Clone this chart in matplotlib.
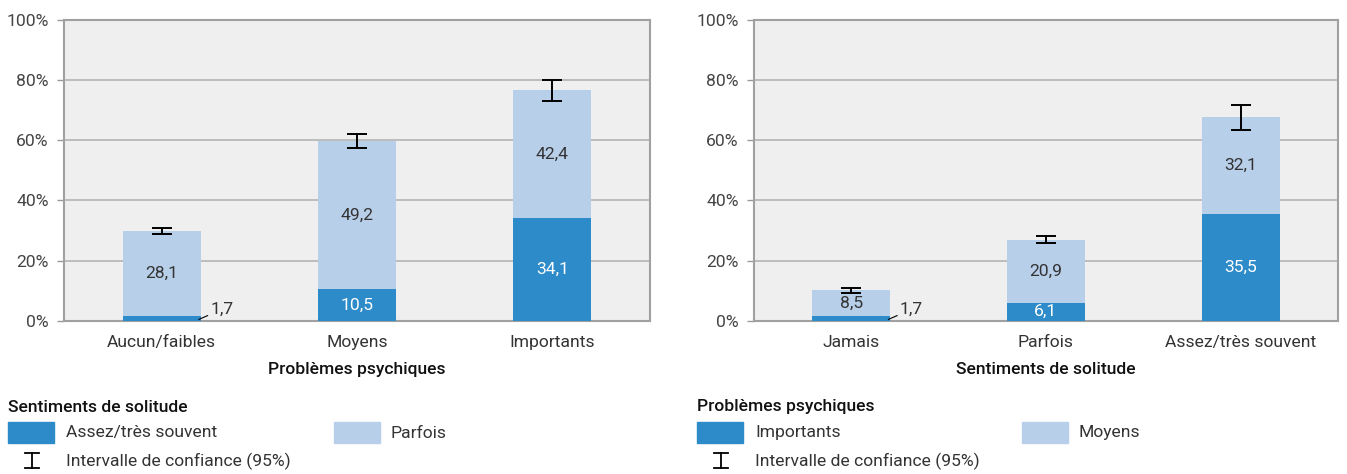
import numpy as np
import matplotlib.pyplot as plt
from matplotlib.patches import Rectangle
from matplotlib.lines import Line2D

plt.rcParams['font.family'] = ['Roboto', 'DejaVu Sans']

# Data
left_cats = ["Aucun/faibles", "Moyens", "Importants"]
left_dark = [1.7, 10.5, 34.1]
left_light = [28.1, 49.2, 42.4]
left_ci_low = [28.9, 57.3, 72.9]
left_ci_high = [30.7, 61.9, 79.8]

right_cats = ["Jamais", "Parfois", "Assez/très souvent"]
right_dark = [1.7, 6.1, 35.5]
right_light = [8.5, 20.9, 32.1]
right_ci_low = [9.3, 25.8, 63.3]
right_ci_high = [10.9, 28.2, 71.5]

dark_col = "#2E8BC9"
light_col = "#B8CFEA"
bg_col = "#EFEFEF"
grid_col = "#B4B4B4"
text_col = "#333333"
FS = 12.6

W, H = 1347, 474
fig = plt.figure(figsize=(W / 100, H / 100), dpi=100)


def px_axes(x0, y0, x1, y1):
    return fig.add_axes([x0 / W, 1 - y1 / H, (x1 - x0) / W, (y1 - y0) / H])


def draw_panel(ax, cats, dark, light, lo, hi, xlabel):
    x = np.arange(len(cats))
    ax.set_facecolor(bg_col)
    ax.bar(x, dark, width=0.4, color=dark_col, zorder=3)
    ax.bar(x, light, width=0.4, bottom=dark, color=light_col, zorder=3)
    mid = (np.array(lo) + np.array(hi)) / 2
    err = [mid - np.array(lo), np.array(hi) - mid]
    ax.errorbar(x, mid, yerr=err, fmt="none", ecolor="black", elinewidth=1.4,
                capsize=7.5, capthick=1.4, zorder=4)
    for i in range(len(cats)):
        # light segment label
        ax.text(x[i], dark[i] + light[i] / 2, f"{light[i]:.1f}".replace(".", ","),
                ha="center", va="center", fontsize=FS, color=text_col, zorder=5)
        if dark[i] < 5:
            ax.annotate(f"{dark[i]:.1f}".replace(".", ","),
                        xy=(x[i] + 0.19, dark[i] * 0.3),
                        xytext=(x[i] + 0.25, dark[i] + 2.2),
                        ha="left", va="center", fontsize=FS, color=text_col,
                        arrowprops=dict(arrowstyle="-", color="black", lw=0.8,
                                        shrinkA=0, shrinkB=0), zorder=5)
        else:
            ax.text(x[i], dark[i] / 2, f"{dark[i]:.1f}".replace(".", ","),
                    ha="center", va="center", fontsize=FS, color="white", zorder=5)
    ax.set_xlim(-0.5, len(cats) - 0.5)
    ax.set_ylim(0, 100)
    ax.set_yticks(np.arange(0, 101, 20))
    ax.set_yticklabels([f"{v}%" for v in range(0, 101, 20)])
    ax.set_xticks(x)
    ax.set_xticklabels(cats)
    ax.tick_params(axis="x", length=0, labelsize=FS, labelcolor=text_col, pad=10)
    ax.tick_params(axis="y", length=5, width=1, color="#999999", labelsize=FS,
                   labelcolor="#444444", pad=6)
    ax.yaxis.grid(True, color=grid_col, lw=1.2, zorder=1)
    ax.set_axisbelow(True)
    for s in ax.spines.values():
        s.set_color("#A0A0A0")
        s.set_linewidth(1.5)
    ax.set_xlabel(xlabel, fontsize=FS, fontweight="medium", color="#111111", labelpad=9)


ax1 = px_axes(64, 19.5, 650, 321)
draw_panel(ax1, left_cats, left_dark, left_light, left_ci_low, left_ci_high,
           "Problèmes psychiques")
ax2 = px_axes(754, 19.5, 1338, 321)
draw_panel(ax2, right_cats, right_dark, right_light, right_ci_low, right_ci_high,
           "Sentiments de solitude")


def legend(x0, title, lab1, lab2, x2):
    fig.text(x0 / W, 1 - 407 / H, title, fontsize=FS, fontweight="medium",
             color="#111111", va="center", ha="left")
    fig.patches.append(Rectangle((x0 / W, 1 - 443 / H), 46 / W, 21 / H,
                                 transform=fig.transFigure, color=dark_col))
    fig.text((x0 + 58) / W, 1 - 433 / H, lab1, fontsize=FS, color=text_col,
             va="center", ha="left")
    fig.patches.append(Rectangle((x2 / W, 1 - 443 / H), 46 / W, 21 / H,
                                 transform=fig.transFigure, color=light_col))
    fig.text((x2 + 57) / W, 1 - 433 / H, lab2, fontsize=FS, color=text_col,
             va="center", ha="left")
    cx = x0 + 24
    for seg in [((cx, 453), (cx, 468)), ((cx - 7, 453), (cx + 7, 453)),
                ((cx - 7, 468), (cx + 7, 468))]:
        fig.lines.append(Line2D([seg[0][0] / W, seg[1][0] / W],
                                [1 - seg[0][1] / H, 1 - seg[1][1] / H],
                                transform=fig.transFigure, color="black", lw=1.3))
    fig.text((x0 + 58) / W, 1 - 461 / H, "Intervalle de confiance (95%)", fontsize=FS,
             color=text_col, va="center", ha="left")


legend(8, "Sentiments de solitude", "Assez/très souvent", "Parfois", 334)
legend(697, "Problèmes psychiques", "Importants", "Moyens", 1022)

fig.savefig("out.png", dpi=100)
